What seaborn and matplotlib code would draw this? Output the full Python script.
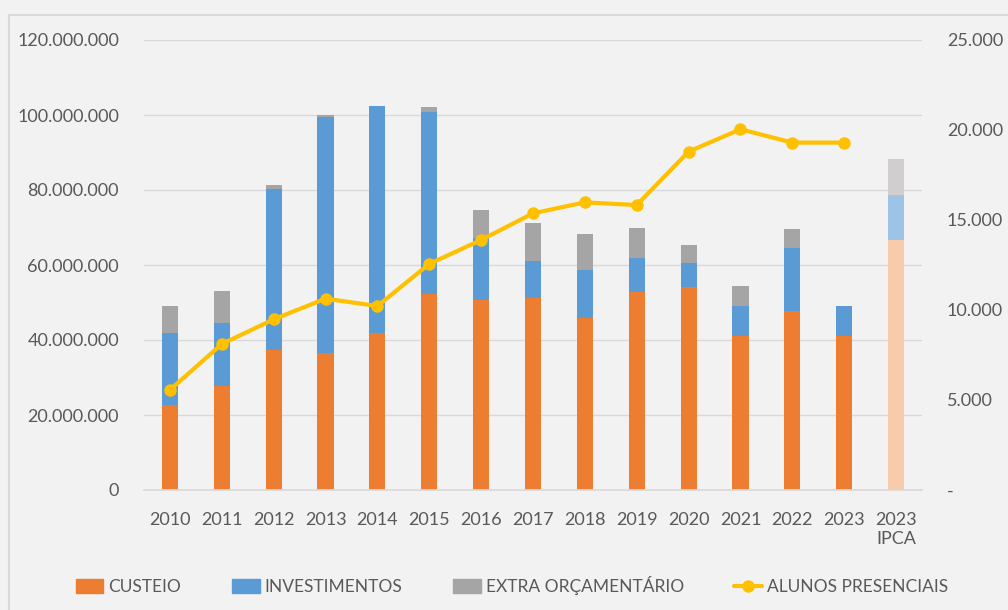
import matplotlib
matplotlib.use("Agg")
import matplotlib.pyplot as plt
import matplotlib.ticker as mticker
from matplotlib.patches import Patch
from matplotlib.lines import Line2D
import seaborn as sns

# data
anos = ["2010", "2011", "2012", "2013", "2014", "2015", "2016", "2017",
        "2018", "2019", "2020", "2021", "2022", "2023", "2023\nIPCA"]
custeio = [22.7, 27.8, 37.4, 36.5, 42.0, 52.4, 50.8, 51.3,
           45.8, 52.7, 54.1, 41.2, 47.7, 41.2, 66.6]
investimentos = [19.3, 16.7, 43.0, 63.1, 60.4, 48.5, 16.4, 9.8,
                 13.0, 9.3, 6.4, 7.8, 16.9, 7.8, 12.1]
extra = [7.0, 8.5, 0.9, 0.4, 0.0, 1.2, 7.5, 10.1,
         9.5, 7.8, 4.9, 5.4, 4.9, 0.0, 9.6]
alunos = [5560, 8110, 9480, 10630, 10220, 12560, 13890, 15370,
          15980, 15830, 18800, 20040, 19300, 19300]

BG = "#F2F2F2"
TXT = "#595959"
GRID = "#D9D9D9"
c_orange = ["#ED7D31"] * 14 + ["#F8CBAD"]
c_blue = ["#5B9BD5"] * 14 + ["#9DC3E6"]
c_gray = ["#A5A5A5"] * 14 + ["#D0CECE"]
c_line = "#FFC000"

sns.set_theme(style="white")
plt.rcParams["font.family"] = ["Lato", "DejaVu Sans"]

mil = 1_000_000
tot_blue = [(a + b) * mil for a, b in zip(custeio, investimentos)]
tot_all = [(a + b + c) * mil for a, b, c in zip(custeio, investimentos, extra)]
base = [a * mil for a in custeio]

fig = plt.figure(figsize=(10.08, 6.10), dpi=100, facecolor=BG)
ax = fig.add_axes([144 / 1008, 1 - 490 / 610, 778 / 1008, 450 / 610])
ax.set_facecolor(BG)

# stacked bars drawn as overlapping cumulative totals
for vals, cols in [(tot_all, c_gray), (tot_blue, c_blue), (base, c_orange)]:
    sns.barplot(x=anos, y=vals, hue=anos, palette=cols, legend=False,
                width=0.31, saturation=1, linewidth=0, ax=ax, zorder=2)

ax.set_ylim(0, 120 * mil)
ax.set_xlim(-0.5, len(anos) - 0.5)
ax.yaxis.set_major_locator(mticker.MultipleLocator(20 * mil))
ax.yaxis.set_major_formatter(mticker.FuncFormatter(
    lambda v, p: f"{v:,.0f}".replace(",", ".")))
ax.grid(axis="y", color=GRID, lw=1, zorder=0)
ax.set_axisbelow(True)
for s in ["top", "left", "right"]:
    ax.spines[s].set_visible(False)
ax.spines["bottom"].set_color(GRID)
ax.tick_params(axis="y", length=0, pad=18, labelsize=13, labelcolor=TXT)
ax.tick_params(axis="x", length=0, pad=16, labelsize=13, labelcolor=TXT)
ax.set_xlabel("")
ax.set_ylabel("")

ax2 = ax.twinx()
sns.lineplot(x=list(range(len(alunos))), y=alunos, ax=ax2, color=c_line,
             lw=3, marker="o", markersize=9, markeredgewidth=0, zorder=3)
ax2.set_ylim(0, 25000)
ax2.yaxis.set_major_locator(mticker.MultipleLocator(5000))
ax2.yaxis.set_major_formatter(mticker.FuncFormatter(
    lambda v, p: "-" if v == 0 else f"{v:,.0f}".replace(",", ".")))
ax2.tick_params(axis="y", length=0, pad=18, labelsize=13, labelcolor=TXT)
for s in ax2.spines.values():
    s.set_visible(False)
ax2.set_ylabel("")
ax2.grid(False)

handles = [
    Patch(color="#ED7D31", label="CUSTEIO"),
    Patch(color="#5B9BD5", label="INVESTIMENTOS"),
    Patch(color="#A5A5A5", label="EXTRA ORÇAMENTÁRIO"),
    Line2D([], [], color=c_line, lw=3, marker="o", markersize=9,
           markeredgewidth=0, label="ALUNOS PRESENCIAIS"),
]
fig.legend(handles=handles, loc="center", bbox_to_anchor=(0.508, 0.04),
           ncol=4, frameon=False, fontsize=12.5, labelcolor=TXT,
           handlelength=1.6, handleheight=0.9, handletextpad=0.3,
           columnspacing=2.9)

# outer chart border
fig.add_artist(Line2D([9 / 1008, 1], [1 - 15 / 610, 1 - 15 / 610],
                      color="#D9D9D9", lw=1.5, transform=fig.transFigure))
fig.add_artist(Line2D([9 / 1008, 9 / 1008], [0, 1 - 15 / 610],
                      color="#D9D9D9", lw=1.5, transform=fig.transFigure))

fig.savefig("out.png", dpi=100, facecolor=BG)
